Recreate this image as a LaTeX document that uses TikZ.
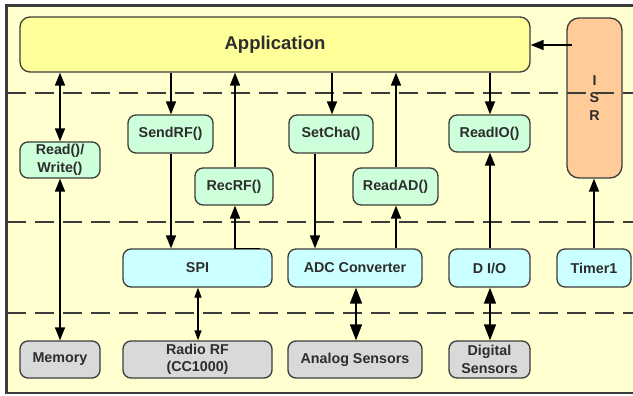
\documentclass[tikz,border=0pt]{standalone}
\usepackage{fontspec}
\setmainfont{Liberation Sans}
\usetikzlibrary{arrows.meta}
\definecolor{bgc}{RGB}{255,255,208}
\definecolor{appc}{RGB}{255,255,153}
\definecolor{grnc}{RGB}{204,255,218}
\definecolor{bluc}{RGB}{204,255,255}
\definecolor{gryc}{RGB}{217,217,217}
\definecolor{isrc}{RGB}{255,204,153}
\definecolor{edgec}{RGB}{60,60,60}
\definecolor{txtc}{RGB}{45,45,45}
\tikzset{
  boxbase/.style={draw=edgec, line width=1.3pt, rounded corners=8pt, inner sep=0pt, align=center,
    font=\fontsize{14.3}{17.5}\selectfont\bfseries, text=txtc},
  greenbox/.style={boxbase, fill=grnc},
  bluebox/.style={boxbase, fill=bluc, minimum height=38pt},
  greybox/.style={boxbase, fill=gryc, minimum height=37pt},
  arr/.style={line width=1.6pt, draw=black, -{Triangle[length=13pt,width=10pt]}},
  darr/.style={line width=1.6pt, draw=black, {Triangle[length=13pt,width=10pt]}-{Triangle[length=13pt,width=10pt]}},
  sarr/.style={line width=1.3pt, draw=black, {Triangle[length=10pt,width=7pt]}-{Triangle[length=10pt,width=7pt]}},
  barr/.style={line width=1.6pt, draw=black, {Triangle[length=16pt,width=12pt]}-{Triangle[length=16pt,width=12pt]}},
  sep/.style={draw=edgec, line width=1.3pt, dash pattern=on 19pt off 9pt},
}
\begin{document}
\begin{tikzpicture}[x=1pt,y=-1pt]
\useasboundingbox (0,0) rectangle (633,396);
\fill[white] (0,0) rectangle (633,396);
\draw[fill=bgc, draw=edgec, line width=2.5pt] (6.5,5.5) rectangle (650,393);

\node[boxbase, fill=appc, rounded corners=10pt, minimum width=510pt, minimum height=55pt,
  font=\fontsize{18.5}{20}\selectfont\bfseries] (app) at (275,44.5) {Application};
\node[boxbase, fill=isrc, rounded corners=12pt, minimum width=55pt, minimum height=160pt] (isr) at (594.5,98) {I\\S\\R};

\node[greenbox, minimum width=80pt, minimum height=36pt] (rw) at (60,160) {Read()/\\Write()};
\node[greenbox, minimum width=85pt, minimum height=38pt] (send) at (170.5,134) {SendRF()};
\node[greenbox, minimum width=78pt, minimum height=37pt] (rec) at (234,186.5) {RecRF()};
\node[greenbox, minimum width=84pt, minimum height=38pt] (setcha) at (331,134) {SetCha()};
\node[greenbox, minimum width=85pt, minimum height=37pt] (readad) at (395.5,186.5) {ReadAD()};
\node[greenbox, minimum width=81pt, minimum height=37pt] (readio) at (489.5,133.5) {ReadIO()};

\node[bluebox, minimum width=149pt] (spi) at (197.5,268) {SPI};
\node[bluebox, minimum width=134pt] (adc) at (355,268) {ADC Converter};
\node[bluebox, minimum width=81pt] (dio) at (489.5,268) {D I/O};
\node[bluebox, minimum width=74pt] (timer) at (594,268) {Timer1};

\node[greybox, minimum width=80pt] (mem) at (60,359.5) {Memory};
\node[greybox, minimum width=149pt] (radio) at (197.5,359.5) {Radio RF\\(CC1000)};
\node[greybox, minimum width=134pt] (analog) at (355,359.5) {Analog Sensors};
\node[greybox, minimum width=81pt] (digital) at (489.5,359.5) {Digital\\Sensors};

% separators
\coordinate (l1) at (7,93);  \coordinate (r1) at (633,93);
\coordinate (l2) at (7,222); \coordinate (r2) at (633,222);
\coordinate (l3) at (7,313); \coordinate (r3) at (633,313);
\draw[sep] (l1) -- (r1);
\draw[sep] (l2) -- (r2);
\draw[sep] (l3) -- (r3);

% connectors
\draw[darr] (app.south -| rw) -- (rw.north);
\draw[darr] (rw.south) -- (mem.north);
\draw[arr] ([xshift=0.5pt]app.south -| send) -- ([xshift=0.5pt]send.north);
\draw[arr] ([xshift=0.5pt]send.south) -- ([xshift=0.5pt]send.south |- spi.north);
\draw[arr] ([xshift=26pt]rec.south |- spi.north) -- ([xshift=1pt]rec.south |- spi.north) -- ([xshift=1pt]rec.south);
\draw[arr] ([xshift=1pt]rec.north) -- ([xshift=1pt]rec.north |- app.south);
\draw[arr] ([xshift=1pt]app.south -| setcha) -- ([xshift=1pt]setcha.north);
\draw[arr] ([xshift=-16pt]setcha.south) -- ([xshift=-16pt]setcha.south |- adc.north);
\draw[arr] ([xshift=0.5pt]adc.north -| readad) -- ([xshift=0.5pt]readad.south);
\draw[arr] ([xshift=0.5pt]readad.north) -- ([xshift=0.5pt]readad.north |- app.south);
\draw[arr] ([xshift=0.5pt]app.south -| readio) -- ([xshift=0.5pt]readio.north);
\draw[arr] ([xshift=0.5pt]dio.north) -- ([xshift=0.5pt]readio.south);
\draw[arr] (timer.north) -- (timer.north |- isr.south);
\draw[arr] ([xshift=6pt,yshift=53pt]isr.west) -- ([yshift=53pt]isr.west -| app.east);
\draw[sarr] ([xshift=0.5pt]spi.south) -- ([xshift=0.5pt]radio.north);
\draw[barr] ([xshift=1pt]adc.south) -- ([xshift=1pt]analog.north);
\draw[barr] ([xshift=0.5pt]dio.south) -- ([xshift=0.5pt]digital.north);
\end{tikzpicture}
\end{document}
